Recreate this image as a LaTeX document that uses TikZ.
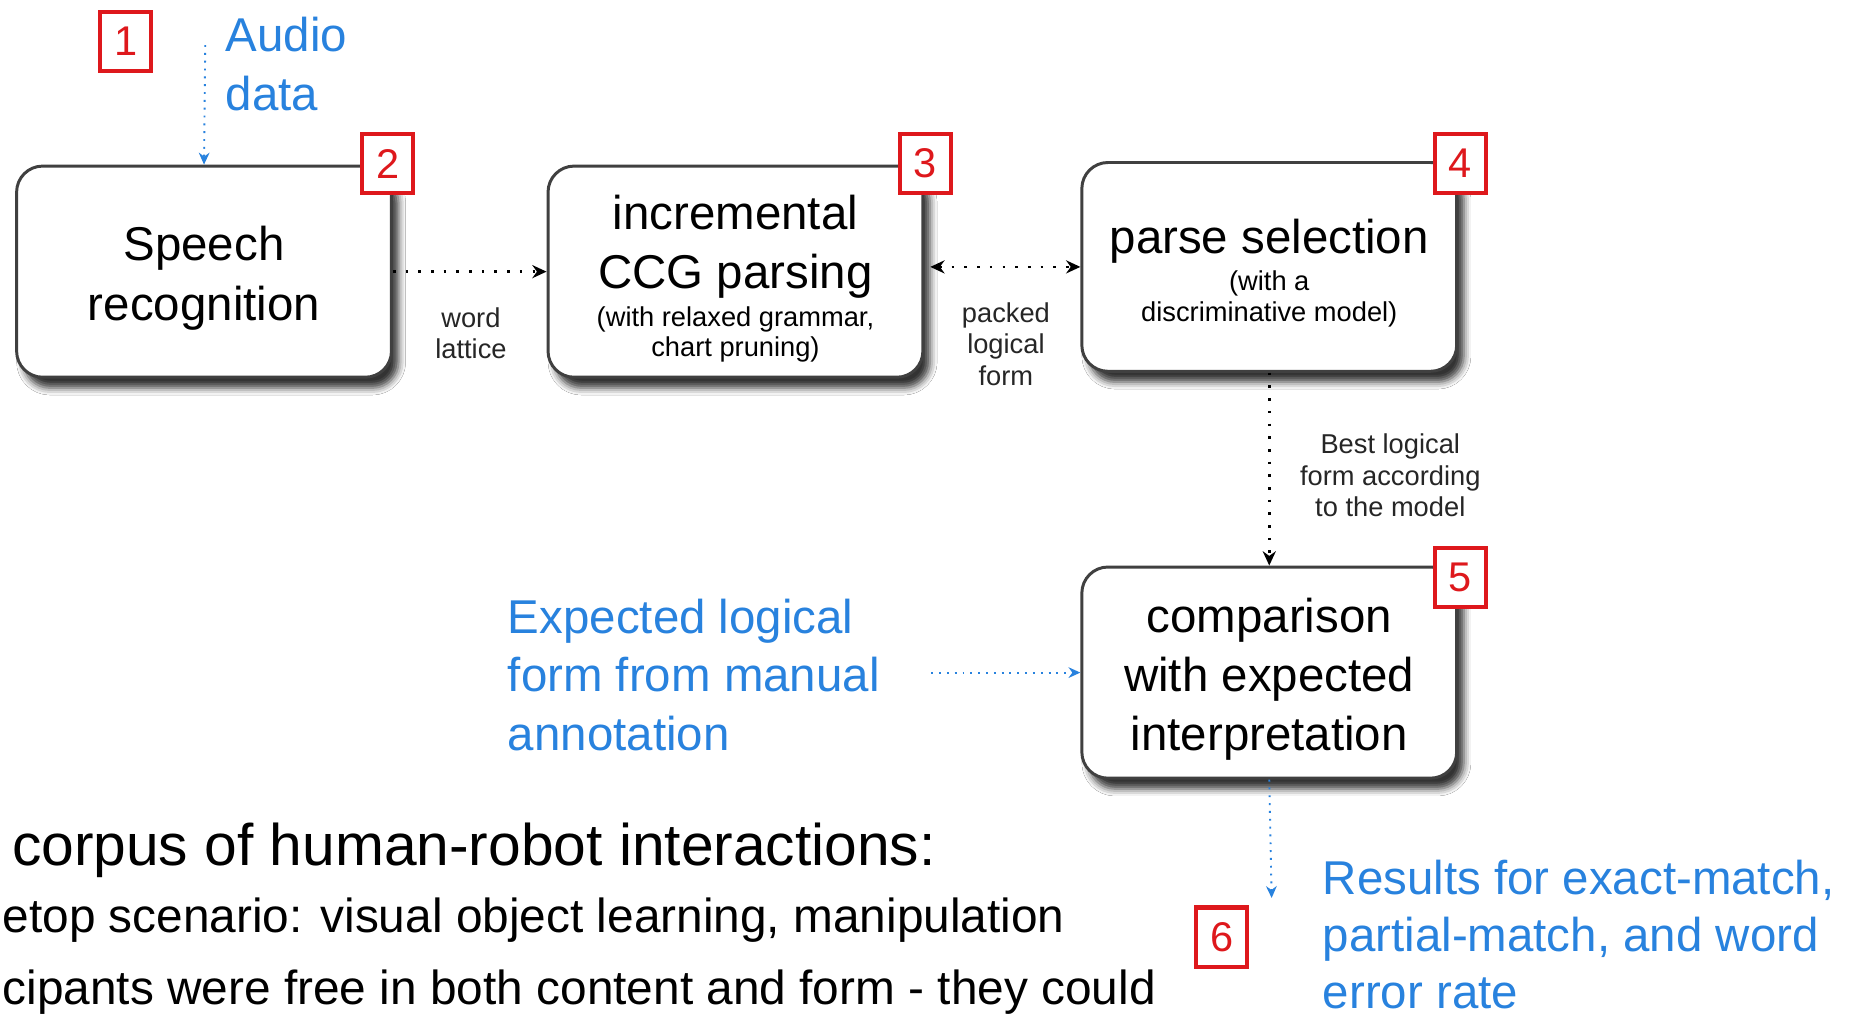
\documentclass[tikz,border=0pt]{standalone}
\usepackage{fontspec}
\setmainfont{Liberation Sans}
\usetikzlibrary{arrows.meta,shadows.blur}
\definecolor{linkblue}{RGB}{40,130,222}
\definecolor{tagred}{RGB}{222,24,28}
\definecolor{framegrey}{RGB}{64,64,64}
% taller first line so the stage texts sit a little lower in their boxes
\newcommand{\stagestrut}{\rule{0pt}{40pt}}

\begin{document}
\begin{tikzpicture}[x=1pt,y=-1pt,
  stage/.style={draw=framegrey, line width=2.5pt, fill=white, rounded corners=22pt,
    minimum width=316pt, minimum height=178pt, inner sep=0pt, align=center,
    font=\fontsize{40}{50}\selectfont,
    blur shadow={shadow xshift=6pt, shadow yshift=-9pt, shadow blur radius=6pt, shadow opacity=80}},
  tag/.style={draw=tagred, line width=3.5pt, fill=white, text=tagred,
    minimum width=43pt, minimum height=50pt, inner sep=0pt, font=\fontsize{35}{35}\selectfont},
  note/.style={font=\fontsize{23}{26.5}\selectfont, align=center, text=black!85, inner sep=0pt},
  flow/.style={draw=black, line width=2.2pt, dash pattern=on 2.2pt off 8.5pt,
    -{Stealth[length=12pt,width=11pt]}},
  feed/.style={draw=linkblue, line width=1.6pt, dash pattern=on 1.6pt off 5pt,
    -{Stealth[length=10pt,width=9pt]}},
  bluetext/.style={text=linkblue, font=\fontsize{40}{49}\selectfont, align=left, inner sep=0pt, anchor=west},
  slide/.style={anchor=west, inner sep=0pt},
]
\useasboundingbox (0,0) rectangle (1568,856);
\fill[white] (0,0) rectangle (1568,856);

% processing stages
\node[stage] (speech) at (172,229) {\stagestrut Speech\\recognition};
\node[stage] (ccg) at (620,229) {\stagestrut incremental\\CCG parsing\\[-18pt]
  {\fontsize{23}{25}\selectfont (with relaxed grammar,}\\[-25pt]
  {\fontsize{23}{25}\selectfont chart pruning)}};
\node[stage, minimum height=176pt] (parse) at (1070,225) {\stagestrut parse selection\\[-19pt]
  {\fontsize{23}{25}\selectfont (with a}\\[-24pt]
  {\fontsize{23}{25}\selectfont discriminative model)}};
\node[stage] (comp) at (1070,567) {\stagestrut comparison\\with expected\\interpretation};

% step numbers
\node[tag] (t1) at (106,35) {1};
\node[tag] (t2) at (327,138) {2};
\node[tag] (t3) at (780,138) {3};
\node[tag] (t4) at (1231,138) {4};
\node[tag] (t5) at (1231,487) {5};
\node[tag] (t6) at (1030,790) {6};

% inputs and outputs
\node[bluetext] (audio) at (190,54) {Audio\\data};
\node[bluetext] (expected) at (428,569) {Expected logical\\form from manual\\annotation};
\node[bluetext, font=\fontsize{40}{48}\selectfont] (results) at (1115,788) {Results for exact-match,\\partial-match, and word\\error rate};

% connector labels
\node[note] (lattice) at (397,281) {word\\lattice};
\node[note] (packed) at (848,290) {packed\\logical\\form};
\node[note] (best) at (1172,401) {Best logical\\form according\\to the model};

% slide text underneath
\node[slide, font=\fontsize{49.5}{50}\selectfont] (corpus) at (10,717) {corpus of human-robot interactions:};
\node[slide, font=\fontsize{40.3}{40}\selectfont] (scenario) at (2,776) {etop scenario: visual object learning, manipulation};
\node[slide, font=\fontsize{40.3}{40}\selectfont] (freedom) at (2,836) {cipants were free in both content and form - they could};

% connectors
\coordinate (audiofeed) at (173,38);
\coordinate (annotfeed) at (785,567);
\coordinate (resultsin) at (1072,757);
\draw[feed] (audiofeed) -- (speech.north);
\draw[flow] (speech) -- (ccg);
\draw[flow, {Stealth[length=12pt,width=11pt]}-{Stealth[length=12pt,width=11pt]}]
  ([xshift=5pt]ccg.east |- parse.west) -- (parse.west);
\draw[flow] (parse) -- (comp);
\draw[feed] (annotfeed) -- (comp.west);
\draw[feed] (comp.south) -- (resultsin);
\end{tikzpicture}
\end{document}
